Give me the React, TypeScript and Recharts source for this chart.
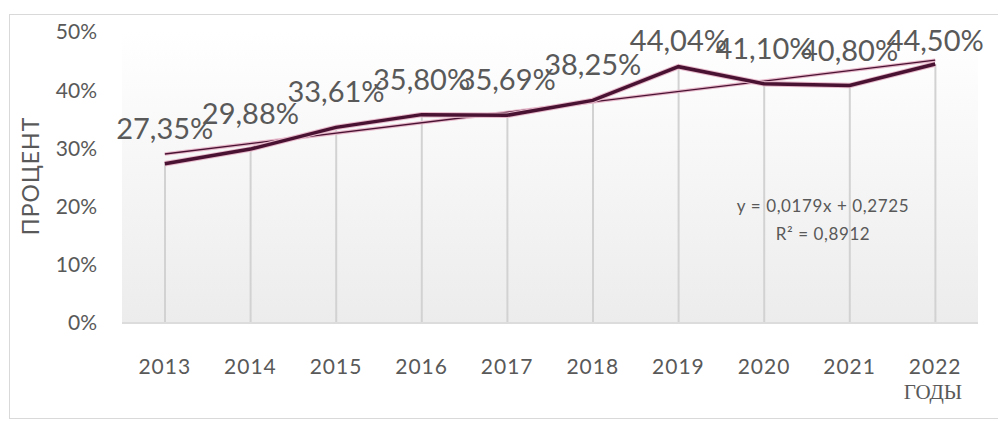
import React from "react";
import {
  ComposedChart,
  Line,
  Bar,
  XAxis,
  YAxis,
  ReferenceArea,
  LabelList,
} from "recharts";

const years = ["2013", "2014", "2015", "2016", "2017", "2018", "2019", "2020", "2021", "2022"];
const shares = [27.35, 29.88, 33.61, 35.8, 35.69, 38.25, 44.04, 41.1, 40.8, 44.5];
// linear trend read at the first and last year
const trendValues = [29.04, null, null, null, null, null, null, null, null, 45.15];
const yTicks = [0, 10, 20, 30, 40, 50];

const data = years.map((year, i) => ({
  year,
  value: shares[i],
  trend: trendValues[i],
}));

const TEXT = "#595959";
const LINE = "#4a1232";
const GLOW = "#e6b8ca";

const fmt = (v: number) => v.toFixed(2).replace(".", ",") + "%";

const renderLabel = (props: any) => {
  const { x, y, value } = props;
  const cy = Math.max(y - 35, 33);
  return (
    <text
      x={x}
      y={cy + 10}
      textAnchor="middle"
      fontSize={29}
      fontFamily="Lato, sans-serif"
      fill={TEXT}
    >
      {fmt(value)}
    </text>
  );
};

export default function App() {
  return (
    <div style={{ position: "relative", width: 990, height: 413, fontFamily: "Lato, sans-serif" }}>
      <div
        style={{
          position: "absolute",
          left: 1,
          top: 6,
          width: 1010,
          height: 403,
          border: "1px solid #d9d9d9",
        }}
      />
      <ComposedChart
        width={990}
        height={413}
        data={data}
        margin={{ top: 24, right: 20, bottom: 38, left: 34 }}
        style={{ position: "absolute", left: 0, top: 0 }}
      >
        <defs>
          <linearGradient id="plotBg" x1="0" y1="0" x2="0" y2="1">
            <stop offset="0%" stopColor="#ffffff" />
            <stop offset="100%" stopColor="#ececec" />
          </linearGradient>
        </defs>
        <XAxis
          dataKey="year"
          axisLine={{ stroke: "#dcdcdc", strokeWidth: 2 }}
          tickLine={false}
          tickSize={0}
          tickMargin={36}
          height={60}
          tick={{ fill: TEXT, fontSize: 21, fontFamily: "Lato, sans-serif", letterSpacing: 1 }}
        />
        <YAxis
          domain={[0, 50]}
          ticks={yTicks}
          width={80}
          axisLine={false}
          tickLine={false}
          tickSize={0}
          tickMargin={25}
          tickFormatter={(v: number) => `${v}%`}
          tick={{ fill: TEXT, fontSize: 21, fontFamily: "Lato, sans-serif" }}
        />
        <ReferenceArea y1={0} y2={50} fill="url(#plotBg)" fillOpacity={1} stroke="none" />
        <Bar dataKey="value" barSize={2} fill="#d2d2d2" isAnimationActive={false} />
        <Line
          dataKey="trend"
          type="linear"
          stroke={GLOW}
          strokeWidth={3.5}
          dot={false}
          connectNulls
          isAnimationActive={false}
        />
        <Line
          dataKey="trend"
          type="linear"
          stroke={LINE}
          strokeWidth={1.3}
          dot={false}
          connectNulls
          isAnimationActive={false}
        />
        <Line
          dataKey="value"
          type="linear"
          stroke={GLOW}
          strokeWidth={5.5}
          dot={false}
          isAnimationActive={false}
        />
        <Line
          dataKey="value"
          type="linear"
          stroke={LINE}
          strokeWidth={3.5}
          dot={false}
          isAnimationActive={false}
        >
          <LabelList dataKey="value" content={renderLabel} />
        </Line>
      </ComposedChart>
      <div
        style={{
          position: "absolute",
          left: 22,
          top: 168,
          transform: "translate(-50%, -50%) rotate(-90deg)",
          fontSize: 23,
          letterSpacing: 1,
          color: TEXT,
          whiteSpace: "nowrap",
        }}
      >
        ПРОЦЕНТ
      </div>
      <div
        style={{
          position: "absolute",
          left: 815,
          top: 197,
          transform: "translate(-50%, -50%)",
          fontSize: 17,
          letterSpacing: 0.6,
          color: TEXT,
          whiteSpace: "nowrap",
        }}
      >
        y = 0,0179x + 0,2725
      </div>
      <div
        style={{
          position: "absolute",
          left: 815,
          top: 225,
          transform: "translate(-50%, -50%)",
          fontSize: 17,
          letterSpacing: 0.6,
          color: TEXT,
          whiteSpace: "nowrap",
        }}
      >
        R² = 0,8912
      </div>
      <div
        style={{
          position: "absolute",
          left: 925,
          top: 384,
          transform: "translate(-50%, -50%)",
          fontSize: 21,
          fontFamily: "'Liberation Serif', serif",
          color: TEXT,
          whiteSpace: "nowrap",
        }}
      >
        ГОДЫ
      </div>
    </div>
  );
}
